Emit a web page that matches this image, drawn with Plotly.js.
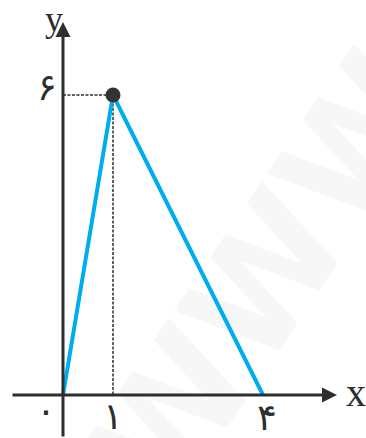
<!DOCTYPE html>
<html>
<head>
<meta charset="utf-8">
<script src="https://cdn.plot.ly/plotly-3.0.1.min.js"></script>
<style>
  html, body { margin: 0; padding: 0; background: #fff; }
  #chart { width: 366px; height: 438px; }
</style>
</head>
<body>
<div id="chart"></div>
<script>
// Triangle path: from the origin up to the peak and back down to the x-axis
const pathX = [0, 1, 4];
const pathY = [0, 6, 0];

// Highlighted peak point
const peakX = [1];
const peakY = [6];

// Tick labels (Persian digits)
const xTickVals = [0, 1, 4];
const xTickText = ['۰', '۱', '۴'];
const yTickVals = [6];
const yTickText = ['۶'];

const axisColor = '#2e2e2e';
const lineColor = '#00AEEF';
const digitFont = { family: 'DejaVu Sans, sans-serif', size: 37, color: '#2e2e2e' };
const nameFont = { family: 'Liberation Serif, DejaVu Serif, serif', size: 36, color: '#2e2e2e' };

const traces = [
  // dotted guides from the peak to both axes
  {
    x: [0, peakX[0], peakX[0]], y: [peakY[0], peakY[0], 0],
    type: 'scatter', mode: 'lines',
    line: { color: axisColor, width: 1.5, dash: '3px,1.5px' },
    hoverinfo: 'skip'
  },
  {
    x: pathX, y: pathY, type: 'scatter', mode: 'lines',
    line: { color: lineColor, width: 4 },
    hoverinfo: 'skip'
  },
  {
    x: peakX, y: peakY, type: 'scatter', mode: 'markers',
    marker: { color: '#333333', size: 15 },
    hoverinfo: 'skip'
  }
];

const annotations = [];

// x-axis with arrow
annotations.push({
  x: 5.48, y: 0, ax: -1.04, ay: 0, xref: 'x', yref: 'y', axref: 'x', ayref: 'y',
  showarrow: true, arrowhead: 2, arrowsize: 1, arrowwidth: 3, arrowcolor: axisColor, text: ''
});
// y-axis with arrow
annotations.push({
  x: 0, y: 7.46, ax: 0, ay: -0.86, xref: 'x', yref: 'y', axref: 'x', ayref: 'y',
  showarrow: true, arrowhead: 2, arrowsize: 1, arrowwidth: 3, arrowcolor: axisColor, text: ''
});

// axis names
annotations.push({ x: 5.86, y: 0.06, xref: 'x', yref: 'y', text: 'x', showarrow: false,
  font: Object.assign({}, nameFont, { size: 40 }) });
annotations.push({ x: -0.18, y: 7.52, xref: 'x', yref: 'y', text: 'y', showarrow: false,
  font: nameFont });

// x tick labels
const xTickShift = [-0.34, 0, 0.08];
const xTickY = [-0.3, -0.42, -0.44];
xTickVals.forEach((v, i) => {
  annotations.push({
    x: v + xTickShift[i], y: xTickY[i], xref: 'x', yref: 'y',
    text: xTickText[i], showarrow: false, font: digitFont
  });
});
// y tick labels
yTickVals.forEach((v, i) => {
  annotations.push({
    x: -0.32, y: v + 0.16, xref: 'x', yref: 'y',
    text: yTickText[i], showarrow: false, font: digitFont
  });
});

// faint background watermark, kept beneath the traces
const shapes = [{
  type: 'rect', xref: 'paper', yref: 'paper', x0: 0.2, x1: 1.2, y0: -0.12, y1: 0.88,
  layer: 'below', line: { width: 0 }, fillcolor: 'rgba(0,0,0,0)',
  label: {
    text: 'WWW', textangle: -56, textposition: 'middle center',
    xanchor: 'center', yanchor: 'middle',
    font: { family: 'DejaVu Sans, sans-serif', size: 150, color: '#f7f7f7', weight: 'bold' }
  }
}];

const layout = {
  width: 366, height: 438,
  margin: { l: 0, r: 0, t: 0, b: 0 },
  paper_bgcolor: '#ffffff', plot_bgcolor: '#ffffff',
  showlegend: false,
  xaxis: { range: [-1.26, 6.06], visible: false, fixedrange: true },
  yaxis: { range: [-0.86, 7.9], visible: false, fixedrange: true },
  annotations: annotations,
  shapes: shapes
};

Plotly.newPlot('chart', traces, layout, { staticPlot: true, displayModeBar: false });
</script>
</body>
</html>
